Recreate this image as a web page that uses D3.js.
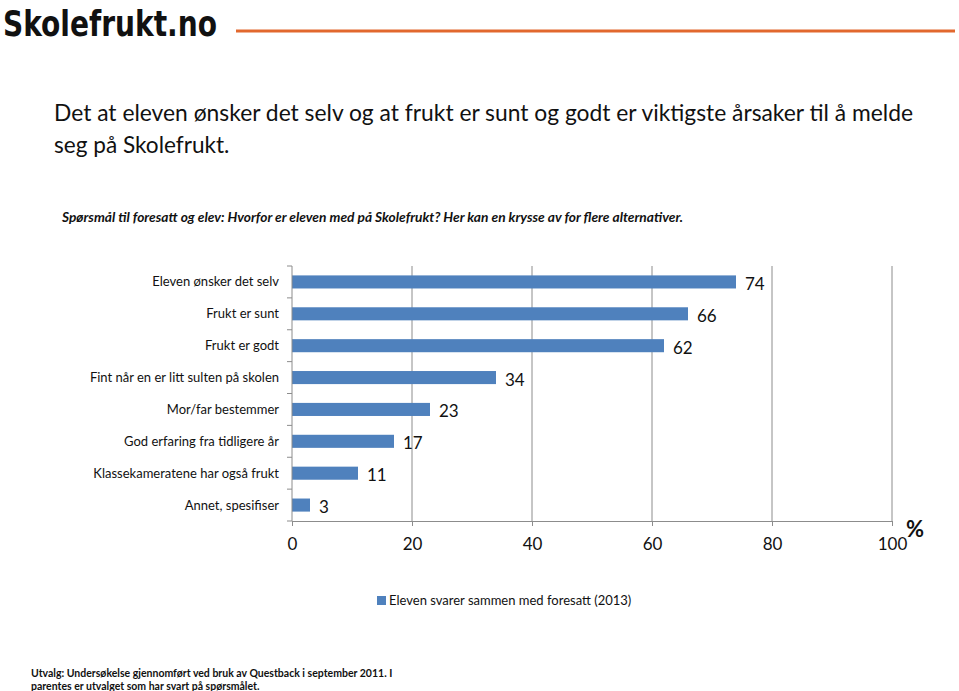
<!DOCTYPE html>
<html><head><meta charset="utf-8">
<script src="https://cdn.jsdelivr.net/npm/d3@7"></script>
<style>body{margin:0;background:#fff}svg{display:block}</style>
</head><body>
<script>
const categories = ["Eleven ønsker det selv","Frukt er sunt","Frukt er godt","Fint når en er litt sulten på skolen","Mor/far bestemmer","God erfaring fra tidligere år","Klassekameratene har også frukt","Annet, spesifiser"];
const values = [74,66,62,34,23,17,11,3];
const xTicks = [0,20,40,60,80,100];
const seriesName = "Eleven svarer sammen med foresatt (2013)";
const titleLines = ["Det at eleven ønsker det selv og at frukt er sunt og godt er viktigste årsaker til å melde","seg på Skolefrukt."];
const subtitle = "Spørsmål  til foresatt og elev: Hvorfor er eleven med på Skolefrukt? Her kan en krysse av for flere alternativer.";
const footLines = ["Utvalg: Undersøkelse gjennomført ved bruk av Questback i september 2011. I","parentes er utvalget som har svart på spørsmålet."];

const W=959,H=691;
const svg=d3.select("body").append("svg").attr("width",W).attr("height",H);
const font="Lato, 'Open Sans', sans-serif";

// logo
svg.append("text").attr("x",3).attr("y",36).attr("font-family","'DejaVu Sans Condensed', 'DejaVu Sans', sans-serif")
  .attr("font-weight","bold").attr("font-size",36).attr("textLength",214).attr("lengthAdjust","spacingAndGlyphs")
  .attr("fill","#111").text("Skolefrukt.no");
svg.append("line").attr("x1",236).attr("x2",955).attr("y1",31).attr("y2",31).attr("stroke","#e2682e").attr("stroke-width",3);

// title
titleLines.forEach((t,i)=>{
  const el=svg.append("text").attr("x",54).attr("y",121+i*32).attr("font-family",font)
    .attr("font-size",22.6).attr("fill","#111").text(t);
  if(i===0) el.attr("textLength",859).attr("lengthAdjust","spacingAndGlyphs");
});
svg.append("text").attr("x",62).attr("y",222).attr("font-family",font).attr("font-size",13.5)
  .attr("font-style","italic").attr("font-weight","bold").attr("fill","#111")
  .attr("textLength",621).attr("lengthAdjust","spacingAndGlyphs").text(subtitle);

// chart
const x=d3.scaleLinear().domain([0,100]).range([292,892]);
const y=d3.scaleBand().domain(categories).range([266,521]).paddingInner(0.59).paddingOuter(0.295);
const gridCol="#8c8c8c";
svg.append("g").selectAll("line").data(xTicks.slice(1)).join("line")
  .attr("x1",d=>x(d)).attr("x2",d=>x(d)).attr("y1",266).attr("y2",521).attr("stroke",gridCol).attr("stroke-width",1);

svg.append("g").selectAll("rect").data(values).join("rect")
  .attr("x",x(0)).attr("y",(d,i)=>y(categories[i])).attr("width",d=>x(d)-x(0)).attr("height",y.bandwidth())
  .attr("fill","#4f81bd");

// x axis
const xa=svg.append("g").attr("transform","translate(0,521)").call(d3.axisBottom(x).tickValues(xTicks).tickSize(5).tickPadding(12));
xa.select(".domain").attr("stroke",gridCol);
xa.selectAll(".tick line").attr("stroke",gridCol);
xa.selectAll("text").attr("font-family",font).attr("font-size",17).attr("fill","#111");

// y axis
const step=(521-266)/categories.length;
const ya=svg.append("g").attr("transform","translate(292,0)");
ya.append("line").attr("x1",0).attr("x2",0).attr("y1",266).attr("y2",521).attr("stroke",gridCol);
ya.selectAll(".tk").data(d3.range(categories.length+1)).join("line").attr("class","tk")
  .attr("x1",-5).attr("x2",0).attr("y1",i=>266+i*step).attr("y2",i=>266+i*step).attr("stroke",gridCol);
ya.selectAll(".lbl").data(categories).join("text").attr("class","lbl")
  .attr("x",-13).attr("y",d=>y(d)+y.bandwidth()/2).attr("dy","0.35em").attr("text-anchor","end")
  .attr("font-family",font).attr("font-size",13).attr("fill","#111").text(d=>d);

// value labels
svg.append("g").selectAll("text").data(values).join("text")
  .attr("x",d=>x(d)+9).attr("y",(d,i)=>y(categories[i])+y.bandwidth()/2+2).attr("dy","0.35em")
  .attr("font-family",font).attr("font-size",17).attr("fill","#111").text(d=>d);

svg.append("text").attr("x",906).attr("y",537).attr("font-family",font).attr("font-size",22).attr("font-weight","bold").attr("fill","#111").text("%");

// legend
svg.append("rect").attr("x",377).attr("y",596).attr("width",9).attr("height",9).attr("fill","#4f81bd");
svg.append("text").attr("x",389).attr("y",605).attr("font-family",font).attr("font-size",13).attr("fill","#111").text(seriesName);

// footnote
footLines.forEach((t,i)=>svg.append("text").attr("x",31).attr("y",677+i*13).attr("font-family",font)
  .attr("font-size",10.5).attr("font-weight","bold").attr("fill","#111").text(t));
</script>
</body></html>
